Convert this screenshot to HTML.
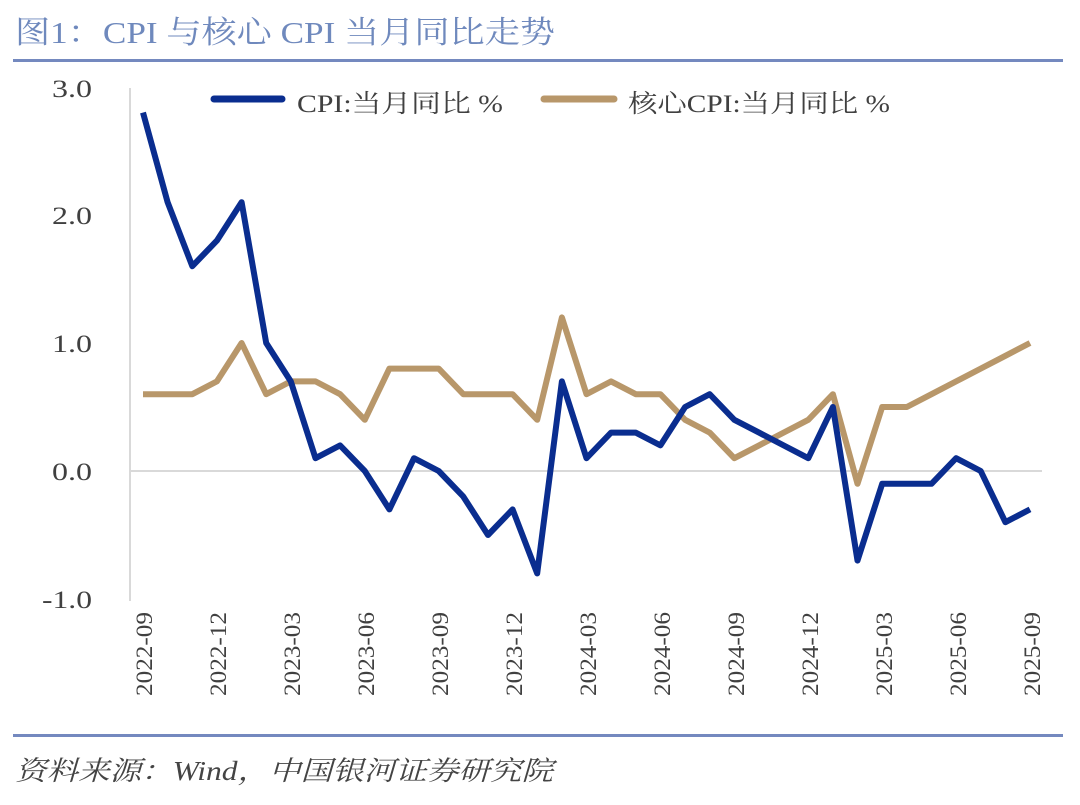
<!DOCTYPE html>
<html><head><meta charset="utf-8"><style>
html,body{margin:0;padding:0;background:#fff;width:1080px;height:805px;overflow:hidden}
svg{display:block}
text{font-family:"Liberation Serif","Noto Serif CJK SC",serif}
</style></head><body>
<svg width="1080" height="805" viewBox="0 0 1080 805">
<text x="15" y="43" font-size="31" fill="#6f89bd" textLength="540" lengthAdjust="spacingAndGlyphs">图1：CPI 与核心 CPI 当月同比走势</text>
<rect x="13" y="59" width="1050" height="3" fill="#7489bf"/>
<rect x="13" y="734" width="1050" height="3" fill="#7489bf"/>
<text x="15" y="780" font-size="27" font-style="italic" fill="#444" textLength="538" lengthAdjust="spacingAndGlyphs">资料来源：Wind，中国银河证券研究院</text>
<line x1="130" y1="88" x2="130" y2="601" stroke="#d9d9d9" stroke-width="2"/>
<line x1="130" y1="471" x2="1042" y2="471" stroke="#d9d9d9" stroke-width="2"/>
<g font-size="25" fill="#404040">
<text x="52" y="97" textLength="40" lengthAdjust="spacingAndGlyphs">3.0</text>
<text x="52" y="224" textLength="40" lengthAdjust="spacingAndGlyphs">2.0</text>
<text x="52" y="352" textLength="40" lengthAdjust="spacingAndGlyphs">1.0</text>
<text x="52" y="480" textLength="40" lengthAdjust="spacingAndGlyphs">0.0</text>
<text x="42" y="608" textLength="50" lengthAdjust="spacingAndGlyphs">-1.0</text>
</g>
<g font-size="23" fill="#404040">
<text transform="translate(152,696) rotate(-90)" textLength="84" lengthAdjust="spacingAndGlyphs">2022-09</text>
<text transform="translate(226,696) rotate(-90)" textLength="84" lengthAdjust="spacingAndGlyphs">2022-12</text>
<text transform="translate(300,696) rotate(-90)" textLength="84" lengthAdjust="spacingAndGlyphs">2023-03</text>
<text transform="translate(374,696) rotate(-90)" textLength="84" lengthAdjust="spacingAndGlyphs">2023-06</text>
<text transform="translate(448,696) rotate(-90)" textLength="84" lengthAdjust="spacingAndGlyphs">2023-09</text>
<text transform="translate(522,696) rotate(-90)" textLength="84" lengthAdjust="spacingAndGlyphs">2023-12</text>
<text transform="translate(596,696) rotate(-90)" textLength="84" lengthAdjust="spacingAndGlyphs">2024-03</text>
<text transform="translate(670,696) rotate(-90)" textLength="84" lengthAdjust="spacingAndGlyphs">2024-06</text>
<text transform="translate(744,696) rotate(-90)" textLength="84" lengthAdjust="spacingAndGlyphs">2024-09</text>
<text transform="translate(818,696) rotate(-90)" textLength="84" lengthAdjust="spacingAndGlyphs">2024-12</text>
<text transform="translate(892,696) rotate(-90)" textLength="84" lengthAdjust="spacingAndGlyphs">2025-03</text>
<text transform="translate(966,696) rotate(-90)" textLength="84" lengthAdjust="spacingAndGlyphs">2025-06</text>
<text transform="translate(1040,696) rotate(-90)" textLength="84" lengthAdjust="spacingAndGlyphs">2025-09</text>
</g>
<polyline fill="none" stroke="#b8976a" stroke-width="6" stroke-linejoin="round" points="143,394.2 167.6,394.2 192.3,394.2 216.9,381.4 241.6,343 266.2,394.2 290.8,381.4 315.5,381.4 340.1,394.2 364.8,419.8 389.4,368.6 414,368.6 438.7,368.6 463.3,394.2 488,394.2 512.6,394.2 537.2,419.8 561.9,317.4 586.5,394.2 611.1,381.4 635.8,394.2 660.4,394.2 685.1,419.8 709.7,432.6 734.3,458.2 759,445.4 783.6,432.6 808.3,419.8 832.9,394.2 857.5,483.8 882.2,407 906.8,407 931.5,394.2 956.1,381.4 980.7,368.6 1005.4,355.8 1030,343"/>
<polyline fill="none" stroke="#0a2d8f" stroke-width="6" stroke-linejoin="round" points="143,112.6 167.6,202.2 192.3,266.2 216.9,240.6 241.6,202.2 266.2,343 290.8,381.4 315.5,458.2 340.1,445.4 364.8,471 389.4,509.4 414,458.2 438.7,471 463.3,496.6 488,535 512.6,509.4 537.2,573.4 561.9,381.4 586.5,458.2 611.1,432.6 635.8,432.6 660.4,445.4 685.1,407 709.7,394.2 734.3,419.8 759,432.6 783.6,445.4 808.3,458.2 832.9,407 857.5,560.6 882.2,483.8 906.8,483.8 931.5,483.8 956.1,458.2 980.7,471 1005.4,522.2 1030,509.4"/>
<line x1="214" y1="99" x2="282" y2="99" stroke="#0a2d8f" stroke-width="7" stroke-linecap="round"/>
<text x="297" y="112" font-size="25" fill="#404040" textLength="206" lengthAdjust="spacingAndGlyphs">CPI:当月同比 %</text>
<line x1="544" y1="99" x2="614" y2="99" stroke="#b8976a" stroke-width="7" stroke-linecap="round"/>
<text x="628" y="112" font-size="25" fill="#404040" textLength="262" lengthAdjust="spacingAndGlyphs">核心CPI:当月同比 %</text>
</svg>
</body></html>
